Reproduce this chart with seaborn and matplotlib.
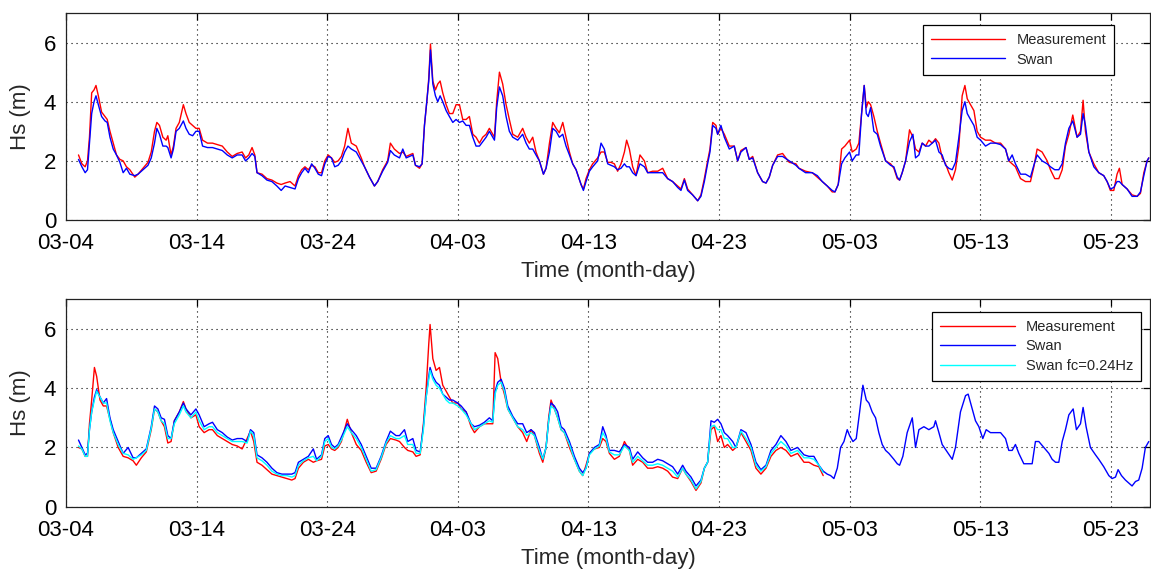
import numpy as np
import pandas as pd
import matplotlib
matplotlib.use("Agg")
import matplotlib.pyplot as plt
import seaborn as sns

# ---------------- data ----------------
start = pd.Timestamp("2012-03-04")
tick_labels = ["03-04", "03-14", "03-24", "04-03", "04-13", "04-23", "05-03", "05-13", "05-23"]
x_end_days = 83.0

# top panel: days since 03-04 00:00
top_day = [
    0.96, 1.22, 1.47, 1.65, 1.80, 1.97, 2.15, 2.30, 2.48, 2.73, 2.99, 3.16, 3.37, 3.62, 3.87, 4.13,
    4.38, 4.63, 4.89, 5.27, 5.52, 5.90, 6.28, 6.53, 6.78, 6.96, 7.16, 7.42, 7.67, 7.80, 8.05, 8.23,
    8.43, 8.68, 8.99, 9.19, 9.44, 9.70, 9.95, 10.20, 10.46, 10.84, 11.22, 11.59, 11.97, 12.35, 12.73,
    13.11, 13.49, 13.75, 14.00, 14.25, 14.46, 14.63, 15.01, 15.39, 15.77, 16.15, 16.48, 16.78, 17.16,
    17.54, 17.80, 18.05, 18.30, 18.56, 18.81, 19.06, 19.32, 19.57, 19.82, 20.08, 20.33, 20.58, 20.84,
    21.09, 21.34, 21.59, 21.85, 22.23, 22.61, 22.86, 23.24, 23.62, 23.87, 24.25, 24.63, 24.84, 25.14,
    25.54, 25.79, 26.05, 26.30, 26.56, 26.76, 27.07, 27.27, 27.45, 27.63, 27.78, 27.91, 28.09, 28.29,
    28.47, 28.65, 28.85, 29.11, 29.36, 29.62, 29.87, 30.13, 30.38, 30.64, 30.89, 31.15, 31.40, 31.66,
    31.91, 32.17, 32.42, 32.81, 32.98, 33.19, 33.44, 33.70, 33.95, 34.21, 34.59, 34.97, 35.23, 35.48,
    35.74, 35.99, 36.25, 36.56, 36.76, 37.02, 37.27, 37.53, 37.78, 38.04, 38.29, 38.55, 38.80, 39.06,
    39.44, 39.62, 39.82, 40.08, 40.33, 40.71, 40.97, 41.22, 41.48, 41.73, 41.99, 42.24, 42.50, 42.76,
    42.93, 43.14, 43.39, 43.65, 43.95, 44.29, 44.54, 44.92, 45.31, 45.69, 46.07, 46.45, 46.84, 47.09,
    47.35, 47.60, 47.98, 48.37, 48.62, 48.88, 49.13, 49.31, 49.52, 49.77, 49.90, 50.15, 50.41, 50.79,
    51.17, 51.43, 51.68, 52.07, 52.32, 52.58, 52.96, 53.34, 53.60, 53.85, 54.11, 54.49, 54.87, 55.38,
    55.89, 56.12, 56.63, 57.14, 57.53, 57.91, 58.29, 58.67, 58.88, 59.13, 59.39, 59.64, 60.00, 60.20,
    60.51, 60.71, 60.92, 61.12, 61.28, 61.43, 61.61, 61.86, 62.12, 62.37, 62.76, 63.14, 63.39, 63.65,
    63.83, 64.03, 64.29, 64.59, 64.85, 65.05, 65.31, 65.56, 65.82, 66.07, 66.33, 66.58, 66.84, 67.09,
    67.35, 67.60, 67.86, 68.11, 68.37, 68.62, 68.83, 69.01, 69.26, 69.52, 69.77, 70.03, 70.41, 70.79,
    71.17, 71.56, 71.94, 72.19, 72.45, 72.70, 73.09, 73.47, 73.85, 74.11, 74.36, 74.74, 75.13, 75.38,
    75.71, 76.02, 76.28, 76.53, 76.79, 77.09, 77.42, 77.68, 77.88, 78.06, 78.32, 78.70, 79.08, 79.46,
    79.72, 79.97, 80.23, 80.48, 80.66, 80.87, 81.25, 81.63, 82.02, 82.27, 82.53, 82.78, 82.91,
]
top_meas = [
    2.2, 1.9, 1.8, 2.0, 2.8, 4.3, 4.4, 4.55, 4.2, 3.65, 3.5, 3.4, 3.0, 2.6, 2.2, 2.05,
    2.0, 1.8, 1.7, 1.45, 1.55, 1.75, 1.95, 2.3, 3.0, 3.3, 3.2, 2.8, 2.7, 2.85, 2.2, 2.5,
    3.1, 3.3, 3.9, 3.6, 3.3, 3.2, 3.1, 3.1, 2.7, 2.6, 2.6, 2.55, 2.5, 2.3, 2.15,
    2.25, 2.3, 2.1, 2.2, 2.45, 2.2, 1.6, 1.55, 1.4, 1.35, 1.25, 1.2, 1.25, 1.3,
    1.15, 1.5, 1.7, 1.8, 1.7, 1.85, 1.8, 1.6, 1.6, 2.0, 2.2, 2.1, 1.95, 2.0,
    2.15, 2.5, 3.1, 2.6, 2.5, 2.1, 1.8, 1.45, 1.15, 1.3, 1.7, 2.0, 2.6, 2.4,
    2.25, 2.3, 2.15, 2.2, 2.25, 1.85, 1.75, 1.9, 3.2, 4.0, 4.8, 5.95, 4.7, 4.4,
    4.6, 4.7, 4.3, 3.9, 3.6, 3.6, 3.9, 3.9, 3.4, 3.4, 3.5, 2.9, 2.8, 2.6,
    2.8, 2.9, 3.1, 2.8, 4.0, 5.0, 4.6, 3.9, 3.4, 2.9, 2.8, 3.1, 2.8, 2.6,
    2.8, 2.3, 2.0, 1.55, 1.75, 2.6, 3.3, 3.1, 2.95, 3.3, 2.8, 2.3, 1.9, 1.7,
    1.2, 1.05, 1.4, 1.7, 1.9, 2.1, 2.3, 2.3, 1.95, 1.95, 1.9, 1.65, 1.9, 2.3,
    2.7, 2.4, 1.8, 1.5, 2.2, 2.0, 1.6, 1.65, 1.65, 1.75, 1.4, 1.3, 1.15, 1.05,
    1.4, 1.05, 0.85, 0.65, 0.85, 1.4, 2.0, 2.4, 3.3, 3.2, 2.9, 3.1, 2.9, 2.5,
    2.5, 2.0, 2.35, 2.45, 2.05, 2.15, 1.6, 1.3, 1.25, 1.45, 1.85, 2.2, 2.25, 1.95,
    1.9, 1.75, 1.65, 1.6, 1.45, 1.3, 1.15, 0.95, 0.95, 1.2, 2.4, 2.5, 2.7, 2.3,
    2.4, 2.6, 3.6, 4.55, 3.8, 4.0, 3.9, 3.5, 3.0, 2.6, 2.0, 1.9, 1.75, 1.4,
    1.35, 1.6, 2.0, 3.05, 2.8, 2.4, 2.3, 2.6, 2.5, 2.7, 2.6, 2.75, 2.6, 2.1,
    1.9, 1.6, 1.35, 1.7, 2.5, 4.2, 4.55, 4.1, 3.9, 3.7, 3.0, 2.8, 2.7, 2.7,
    2.6, 2.6, 2.4, 2.0, 1.9, 1.8, 1.4, 1.3, 1.3, 1.8, 2.4, 2.3, 2.0, 1.7,
    1.4, 1.4, 1.7, 2.5, 2.9, 3.55, 2.8, 3.0, 4.05, 3.0, 2.3, 1.9, 1.6, 1.5,
    1.3, 1.0, 1.0, 1.55, 1.75, 1.2, 1.05, 0.85, 0.8, 0.9, 1.6, 2.0, 2.1,
]
top_swan = [
    2.05, 1.8, 1.6, 1.7, 2.6, 3.6, 4.0, 4.2, 3.9, 3.5, 3.35, 3.3, 2.8, 2.4, 2.2, 1.95,
    1.6, 1.75, 1.55, 1.5, 1.55, 1.7, 1.85, 2.1, 2.6, 3.1, 2.9, 2.5, 2.5, 2.45, 2.1, 2.4,
    3.0, 3.1, 3.35, 3.1, 2.9, 2.85, 3.0, 3.0, 2.5, 2.45, 2.45, 2.4, 2.35, 2.2, 2.1,
    2.2, 2.2, 2.0, 2.1, 2.25, 2.15, 1.6, 1.5, 1.35, 1.3, 1.15, 1.0, 1.15, 1.1,
    1.05, 1.4, 1.6, 1.75, 1.6, 1.9, 1.75, 1.55, 1.5, 1.9, 2.15, 2.1, 1.8, 1.85,
    2.0, 2.3, 2.5, 2.4, 2.3, 2.0, 1.8, 1.45, 1.15, 1.3, 1.65, 1.95, 2.35, 2.2,
    2.1, 2.4, 2.1, 2.15, 2.2, 1.85, 1.8, 1.9, 3.2, 4.0, 4.7, 5.75, 4.6, 4.2,
    4.0, 4.2, 4.0, 3.7, 3.5, 3.3, 3.4, 3.3, 3.35, 3.2, 3.2, 2.8, 2.5, 2.5,
    2.65, 2.8, 3.0, 2.7, 3.8, 4.5, 4.2, 3.5, 3.0, 2.8, 2.7, 2.9, 2.6, 2.4,
    2.4, 2.2, 2.0, 1.55, 1.75, 2.3, 3.1, 3.0, 2.8, 2.9, 2.5, 2.2, 1.9, 1.7,
    1.2, 1.0, 1.3, 1.65, 1.8, 2.0, 2.6, 2.4, 1.9, 1.85, 1.8, 1.7, 1.75, 1.9,
    1.8, 1.8, 1.6, 1.5, 1.9, 1.8, 1.6, 1.6, 1.6, 1.6, 1.4, 1.3, 1.1, 1.0,
    1.35, 1.0, 0.85, 0.65, 0.8, 1.3, 1.9, 2.3, 3.2, 3.1, 2.9, 3.2, 2.8, 2.4,
    2.5, 2.0, 2.3, 2.45, 2.05, 2.1, 1.6, 1.3, 1.25, 1.45, 1.85, 2.15, 2.15, 2.0,
    1.85, 1.75, 1.6, 1.6, 1.5, 1.3, 1.15, 1.0, 0.95, 1.2, 1.9, 2.1, 2.3, 2.0,
    2.2, 2.2, 3.6, 4.55, 3.6, 3.5, 3.8, 3.0, 2.9, 2.5, 2.0, 1.85, 1.8, 1.45,
    1.35, 1.6, 2.0, 2.65, 2.9, 2.1, 2.2, 2.6, 2.5, 2.5, 2.6, 2.7, 2.3, 2.2,
    1.85, 1.75, 1.7, 1.95, 2.8, 3.7, 4.0, 3.6, 3.4, 3.2, 2.8, 2.7, 2.5, 2.6,
    2.6, 2.55, 2.4, 2.0, 2.2, 1.9, 1.55, 1.55, 1.45, 1.85, 2.2, 2.0, 1.9, 1.8,
    1.7, 1.7, 1.9, 2.6, 3.1, 3.35, 2.8, 2.9, 3.6, 3.2, 2.3, 1.8, 1.6, 1.5,
    1.3, 1.05, 1.1, 1.3, 1.3, 1.2, 1.05, 0.8, 0.8, 0.95, 1.5, 2.0, 2.1,
]

# bottom panel: days since 03-04 00:00 (measurement / fc series stop near 05-01)
bot_day = [
    0.96, 1.22, 1.47, 1.65, 1.80, 1.97, 2.18, 2.35, 2.61, 2.86, 3.11, 3.37, 3.62, 4.00, 4.38, 4.76,
    5.14, 5.39, 5.77, 6.15, 6.53, 6.78, 7.04, 7.29, 7.54, 7.80, 8.05, 8.30, 8.68, 8.99, 9.19, 9.57,
    9.95, 10.20, 10.58, 10.96, 11.22, 11.59, 11.97, 12.35, 12.73, 13.11, 13.49, 13.87, 14.13, 14.38,
    14.63, 15.01, 15.39, 15.77, 16.15, 16.53, 16.91, 17.29, 17.54, 17.80, 18.18, 18.56, 18.94, 19.19,
    19.57, 19.82, 20.08, 20.33, 20.58, 20.84, 21.09, 21.54, 21.85, 22.23, 22.61, 22.99, 23.37, 23.75,
    24.13, 24.51, 24.84, 25.27, 25.54, 25.92, 26.17, 26.56, 26.81, 27.12, 27.37, 27.58, 27.78, 27.88,
    28.09, 28.34, 28.60, 28.85, 29.11, 29.36, 29.62, 30.00, 30.26, 30.64, 31.02, 31.28, 31.66, 32.04,
    32.42, 32.68, 32.86, 33.06, 33.32, 33.57, 33.83, 34.21, 34.59, 34.97, 35.28, 35.61, 35.87, 36.25,
    36.51, 36.76, 36.96, 37.14, 37.40, 37.65, 37.91, 38.16, 38.55, 38.93, 39.31, 39.57, 39.82, 40.08,
    40.46, 40.84, 41.10, 41.35, 41.61, 41.99, 42.37, 42.76, 43.14, 43.39, 43.78, 44.16, 44.54, 44.92,
    45.31, 45.69, 46.07, 46.45, 46.84, 47.22, 47.47, 47.86, 48.24, 48.62, 48.88, 49.13, 49.39, 49.64,
    49.90, 50.15, 50.41, 50.66, 51.05, 51.30, 51.68, 52.07, 52.45, 52.83, 53.21, 53.60, 53.98, 54.36,
    54.74, 55.13, 55.51, 56.02, 56.51, 56.89, 57.27, 57.65, 57.98,
    58.29, 58.55, 58.80, 59.06, 59.31, 59.57, 59.82, 60.00, 60.26, 60.51, 60.77, 61.02, 61.28, 61.48,
    61.73, 61.99, 62.24, 62.50, 62.76, 63.01, 63.39, 63.65, 63.83, 64.08, 64.41, 64.80, 65.05, 65.31,
    65.69, 66.07, 66.45, 66.58, 66.84, 67.09, 67.47, 67.86, 68.11, 68.49, 68.88, 69.08, 69.39, 69.64,
    69.90, 70.20, 70.46, 70.79, 71.17, 71.56, 71.94, 72.19, 72.45, 72.70, 72.96, 73.34, 73.72, 73.98,
    74.23, 74.49, 74.87, 75.26, 75.51, 75.77, 76.02, 76.28, 76.53, 76.79, 77.12, 77.37, 77.68, 77.88,
    78.11, 78.44, 78.83, 79.08, 79.46, 79.85, 80.10, 80.36, 80.56, 80.82, 81.12, 81.38, 81.63, 81.89,
    82.14, 82.40, 82.65, 82.91,
]
bot_meas = [
    2.0, 1.95, 1.7, 1.7, 2.8, 3.6, 4.7, 4.4, 3.6, 3.4, 3.4, 2.95, 2.5, 2.0, 1.7, 1.65,
    1.55, 1.4, 1.65, 1.85, 2.6, 3.3, 3.2, 2.9, 2.7, 2.15, 2.2, 2.9, 3.2, 3.55, 3.3, 3.0,
    3.1, 2.7, 2.5, 2.6, 2.6, 2.4, 2.3, 2.2, 2.1, 2.05, 1.95, 2.3, 2.55, 2.2,
    1.5, 1.4, 1.25, 1.1, 1.05, 1.0, 0.95, 0.9, 0.95, 1.3, 1.5, 1.6, 1.5, 1.55,
    1.6, 2.05, 2.1, 1.95, 1.9, 2.0, 2.2, 2.95, 2.5, 2.1, 1.9, 1.5, 1.15, 1.2,
    1.6, 2.1, 2.3, 2.25, 2.2, 2.0, 1.9, 1.85, 1.7, 1.75, 2.8, 4.0, 5.5, 6.15,
    5.0, 4.6, 4.7, 4.1, 3.9, 3.7, 3.5, 3.5, 3.3, 3.2, 2.7, 2.5, 2.7, 2.8,
    2.8, 2.8, 5.2, 5.0, 4.2, 3.8, 3.3, 3.0, 2.7, 2.5, 2.2, 2.6, 2.4, 1.8,
    1.5, 2.0, 3.0, 3.6, 3.3, 3.0, 2.6, 2.5, 2.0, 1.6, 1.2, 1.05, 1.4, 1.8,
    1.95, 2.0, 2.3, 2.2, 1.8, 1.6, 1.7, 2.2, 1.9, 1.4, 1.6, 1.5, 1.3, 1.3,
    1.35, 1.3, 1.2, 1.0, 0.95, 1.3, 1.1, 0.85, 0.55, 0.8, 1.3, 1.5, 2.6, 2.7,
    2.2, 2.4, 2.0, 2.1, 1.9, 2.0, 2.5, 2.2, 1.9, 1.3, 1.1, 1.3, 1.7, 1.9,
    2.0, 1.9, 1.7, 1.8, 1.5, 1.5, 1.4, 1.35, 1.05,
]
bot_swan = [
    2.25, 2.0, 1.75, 1.8, 2.6, 3.2, 3.7, 3.95, 3.7, 3.5, 3.65, 3.0, 2.6, 2.2, 1.8, 2.0,
    1.65, 1.65, 1.8, 1.95, 2.7, 3.4, 3.3, 3.0, 2.95, 2.4, 2.3, 2.9, 3.2, 3.5, 3.3, 3.1,
    3.3, 3.1, 2.7, 2.8, 2.85, 2.6, 2.5, 2.35, 2.25, 2.3, 2.3, 2.2, 2.6, 2.5,
    1.75, 1.65, 1.5, 1.3, 1.15, 1.1, 1.1, 1.1, 1.15, 1.5, 1.6, 1.7, 1.95, 1.6,
    1.75, 2.3, 2.4, 2.1, 2.0, 2.1, 2.35, 2.8, 2.6, 2.4, 2.1, 1.7, 1.3, 1.3,
    1.7, 2.2, 2.55, 2.4, 2.4, 2.6, 2.2, 2.3, 1.9, 1.85, 2.7, 3.7, 4.4, 4.7,
    4.4, 4.2, 4.1, 3.8, 3.7, 3.6, 3.6, 3.5, 3.4, 3.2, 2.8, 2.7, 2.75, 2.85,
    3.0, 2.9, 3.9, 4.2, 4.3, 4.0, 3.4, 3.05, 2.8, 2.8, 2.5, 2.6, 2.5, 2.0,
    1.6, 2.0, 2.9, 3.5, 3.4, 3.2, 2.7, 2.6, 2.2, 1.7, 1.3, 1.15, 1.3, 1.8,
    2.0, 2.1, 2.7, 2.4, 1.9, 1.9, 1.85, 2.1, 2.0, 1.6, 1.85, 1.65, 1.5, 1.5,
    1.6, 1.55, 1.45, 1.35, 1.1, 1.4, 1.2, 1.0, 0.7, 0.9, 1.3, 1.5, 2.9, 2.85,
    2.95, 2.8, 2.5, 2.4, 2.2, 2.0, 2.6, 2.5, 2.1, 1.5, 1.25, 1.4, 1.9, 2.1,
    2.4, 2.2, 1.9, 2.0, 1.75, 1.7, 1.7, 1.4, 1.2,
    1.1, 1.05, 0.95, 1.3, 2.0, 2.2, 2.6, 2.4, 2.2, 2.3, 3.2, 4.1, 3.6, 3.5,
    3.2, 3.0, 2.5, 2.1, 1.9, 1.8, 1.6, 1.45, 1.4, 1.7, 2.5, 3.0, 2.0, 2.6,
    2.7, 2.6, 2.7, 2.9, 2.5, 2.1, 1.85, 1.6, 2.0, 3.2, 3.75, 3.8, 3.3, 2.9,
    2.7, 2.3, 2.6, 2.5, 2.5, 2.5, 2.3, 1.9, 1.9, 2.1, 1.8, 1.45, 1.45, 1.45,
    2.2, 2.2, 2.0, 1.8, 1.6, 1.5, 1.5, 2.2, 2.6, 3.1, 3.3, 2.6, 2.8, 3.35,
    2.7, 2.0, 1.75, 1.6, 1.35, 1.05, 0.95, 1.0, 1.25, 1.05, 0.9, 0.8, 0.7, 0.85,
    0.9, 1.3, 2.0, 2.2,
]
bot_fc = [
    2.05, 1.95, 1.7, 1.7, 2.6, 3.2, 3.6, 3.9, 3.7, 3.5, 3.5, 2.9, 2.5, 2.1, 1.8, 1.75,
    1.6, 1.65, 1.75, 1.9, 2.65, 3.3, 3.2, 2.9, 2.8, 2.3, 2.3, 2.8, 3.1, 3.4, 3.2, 3.0,
    3.2, 2.9, 2.6, 2.7, 2.7, 2.5, 2.4, 2.3, 2.2, 2.2, 2.2, 2.15, 2.55, 2.4,
    1.65, 1.55, 1.4, 1.2, 1.1, 1.05, 1.05, 1.0, 1.05, 1.4, 1.55, 1.65, 1.7, 1.55,
    1.7, 2.2, 2.3, 2.0, 1.95, 2.05, 2.25, 2.7, 2.5, 2.3, 2.0, 1.6, 1.2, 1.25,
    1.65, 2.15, 2.4, 2.3, 2.3, 2.4, 2.1, 2.1, 1.8, 1.8, 2.6, 3.7, 4.3, 4.6,
    4.3, 4.1, 4.0, 3.8, 3.6, 3.5, 3.5, 3.4, 3.3, 3.1, 2.8, 2.6, 2.7, 2.8,
    2.9, 2.85, 3.8, 4.1, 4.2, 3.9, 3.3, 3.0, 2.7, 2.6, 2.4, 2.5, 2.4, 1.9,
    1.6, 2.0, 2.9, 3.4, 3.3, 3.0, 2.6, 2.5, 2.1, 1.6, 1.2, 1.05, 1.3, 1.75,
    1.95, 2.05, 2.5, 2.3, 1.85, 1.75, 1.75, 2.05, 1.9, 1.5, 1.7, 1.55, 1.4, 1.4,
    1.45, 1.4, 1.3, 1.2, 1.0, 1.3, 1.1, 0.9, 0.6, 0.85, 1.3, 1.5, 2.7, 2.75,
    2.6, 2.6, 2.3, 2.3, 2.0, 2.0, 2.55, 2.3, 2.0, 1.4, 1.2, 1.35, 1.8, 2.0,
    2.2, 2.05, 1.8, 1.9, 1.65, 1.65, 1.6, 1.4, 1.15,
]

# ---------------- plotting ----------------
sns.set_style("white")
plt.rcParams["font.family"] = ["Liberation Sans", "DejaVu Sans"]

def to_time(days):
    return start + pd.to_timedelta(np.asarray(days, dtype=float), unit="D")

fig = plt.figure(figsize=(11.51, 5.71), dpi=100)
ax1 = fig.add_axes([0.0573, 0.6147, 0.9418, 0.3625])
ax2 = fig.add_axes([0.0573, 0.1126, 0.9418, 0.3632])

lw = 1.0
sns.lineplot(x=to_time(top_day), y=top_meas, ax=ax1, color="#ff0000", lw=lw,
             label="Measurement", estimator=None, sort=False)
sns.lineplot(x=to_time(top_day), y=top_swan, ax=ax1, color="#0000ff", lw=lw,
             label="Swan", estimator=None, sort=False)

n = len(bot_meas)
sns.lineplot(x=to_time(bot_day[:n]), y=bot_meas, ax=ax2, color="#ff0000", lw=lw,
             label="Measurement", estimator=None, sort=False)
sns.lineplot(x=to_time(bot_day), y=bot_swan, ax=ax2, color="#0000ff", lw=lw,
             label="Swan", estimator=None, sort=False)
sns.lineplot(x=to_time(bot_day[:n]), y=bot_fc, ax=ax2, color="#00ffff", lw=lw,
             label="Swan fc=0.24Hz", estimator=None, sort=False)

tick_pos = [pd.Timestamp(f"2012-{t}") for t in tick_labels]
for ax in (ax1, ax2):
    ax.set_xlim(start, start + pd.Timedelta(days=x_end_days))
    ax.set_ylim(0, 7)
    ax.set_yticks([0, 2, 4, 6])
    ax.set_xticks(tick_pos)
    ax.set_xticklabels(tick_labels)
    ax.grid(True, linestyle=(0, (1, 3.5)), color="black", linewidth=0.8)
    for s in ax.spines.values():
        s.set_visible(True)
        s.set_color("#222222")
        s.set_linewidth(0.9)
    ax.tick_params(direction="in", length=5, width=0.9, top=True, right=True,
                   labelsize=16, colors="black")
    ax.tick_params(axis="x", pad=9.5)
    ax.tick_params(axis="y", pad=7)
    ax.set_ylabel("Hs (m)", fontsize=16, labelpad=9)
    ax.set_xlabel("Time (month-day)", fontsize=16, labelpad=5)

leg_kw = dict(loc="upper right", borderaxespad=0, fontsize=10.5, handlelength=5.1,
              handletextpad=0.75, labelspacing=0.38, frameon=True, fancybox=False,
              edgecolor="black", framealpha=1, borderpad=0.55)
l1 = ax1.legend(bbox_to_anchor=(0.967, 0.942), **leg_kw)
l2 = ax2.legend(bbox_to_anchor=(0.9917, 0.940), **leg_kw)
for lg in (l1, l2):
    lg.get_frame().set_linewidth(0.9)

fig.savefig("out.png", dpi=100)
